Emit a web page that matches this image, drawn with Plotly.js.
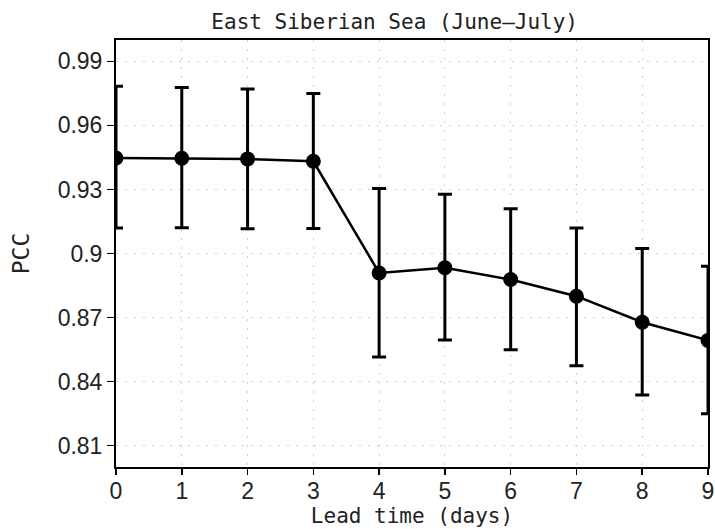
<!DOCTYPE html>
<html>
<head>
<meta charset="utf-8">
<script src="https://cdn.plot.ly/plotly-3.0.1.min.js"></script>
<style>html,body{margin:0;padding:0;background:#fff;}#chart{width:715px;height:529px;}</style>
</head>
<body>
<div id="chart"></div>
<script>
const leadDays = [0, 1, 2, 3, 4, 5, 6, 7, 8, 9];
const pcc      = [0.9447, 0.9446, 0.9443, 0.9432, 0.8909, 0.8933, 0.8878, 0.8800, 0.8678, 0.8593];
const upper    = [0.9783, 0.9778, 0.9770, 0.9750, 0.9305, 0.9277, 0.9210, 0.9120, 0.9023, 0.8940];
const lower    = [0.9119, 0.9121, 0.9116, 0.9117, 0.8515, 0.8595, 0.8549, 0.8474, 0.8337, 0.8250];
const yTickVals = [0.81, 0.84, 0.87, 0.90, 0.93, 0.96, 0.99];
const yTickText = ["0.81", "0.84", "0.87", "0.9", "0.93", "0.96", "0.99"];
const xTickVals = [0, 1, 2, 3, 4, 5, 6, 7, 8, 9];

const errPlus = upper.map((u, i) => u - pcc[i]);
const errMinus = pcc.map((p, i) => p - lower[i]);

const trace = {
  x: leadDays, y: pcc, type: 'scatter', mode: 'lines+markers',
  line: {color: '#000', width: 2.5},
  marker: {color: '#000', size: 15},
  error_y: {type: 'data', symmetric: false, array: errPlus, arrayminus: errMinus,
            color: '#000', thickness: 3, width: 7},
  cliponaxis: true, showlegend: false, hoverinfo: 'none'
};

const monoFont = {family: 'DejaVu Sans Mono', size: 21, color: '#222'};
const tickFont = {family: 'Liberation Sans', size: 23, color: '#222'};
const layout = {
  width: 715, height: 529,
  margin: {l: 116, r: 7, t: 40, b: 62},
  paper_bgcolor: '#fff', plot_bgcolor: '#fff',
  title: {text: 'East Siberian Sea (June\u2013July)', font: monoFont,
          xref: 'container', x: 0.552, xanchor: 'center',
          yref: 'container', y: 1 - 22/529, yanchor: 'middle'},
  xaxis: {range: [0, 9], tickvals: xTickVals, ticks: 'outside', ticklen: 6, tickwidth: 1.5,
          tickcolor: '#000', ticklabelstandoff: -4,
          showline: true, linecolor: '#000', linewidth: 2, mirror: true,
          showgrid: true, gridcolor: '#cfcfcf', griddash: '2px,7px', gridwidth: 1,
          zeroline: false,
          tickfont: tickFont,
          title: {text: 'Lead time (days)', font: monoFont, standoff: 2}},
  yaxis: {range: [0.8, 1.0], tickvals: yTickVals, ticktext: yTickText, ticks: 'outside',
          ticklen: 7, tickwidth: 1.5, tickcolor: '#000',
          showline: true, linecolor: '#000', linewidth: 2, mirror: true,
          showgrid: true, gridcolor: '#cfcfcf', griddash: '2px,7px', gridwidth: 1,
          zeroline: false,
          tickfont: tickFont,
          title: {text: 'PCC', font: {family: 'DejaVu Sans Mono', size: 23, color: '#222'}, standoff: 22}}
};

Plotly.newPlot('chart', [trace], layout, {displayModeBar: false, staticPlot: true});
</script>
</body>
</html>
